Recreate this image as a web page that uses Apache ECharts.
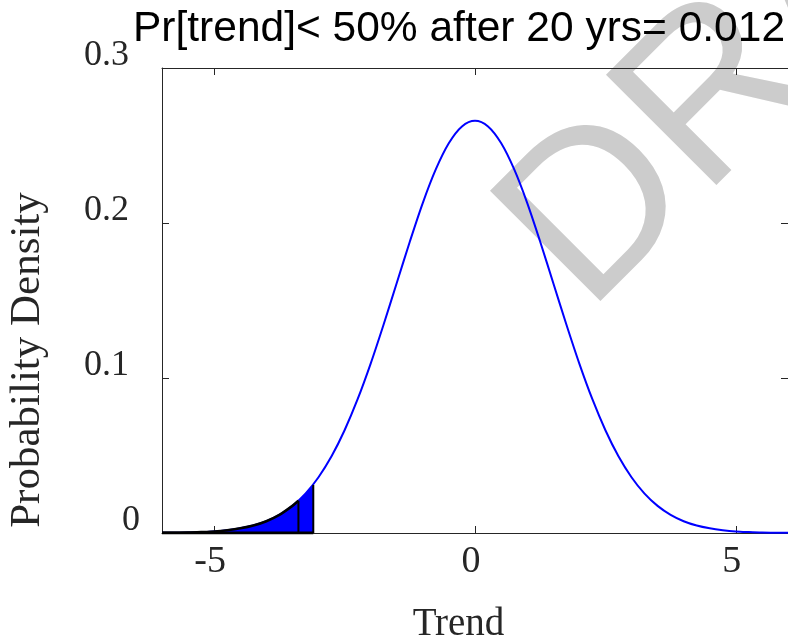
<!DOCTYPE html>
<html>
<head>
<meta charset="utf-8">
<script src="https://cdn.jsdelivr.net/npm/echarts@6/dist/echarts.min.js"></script>
<style>html,body{margin:0;padding:0;background:#fff;}#chart{width:788px;height:643px;}</style>
</head>
<body>
<div id="chart"></div>
<script>
// ---- data ----
const trendX = [-6,-5.75,-5.5,-5.25,-5,-4.75,-4.5,-4.25,-4,-3.75,-3.5,-3.25,-3,-2.75,-2.5,-2.25,-2,-1.75,-1.5,-1.25,-1,-0.75,-0.5,-0.25,0,
  0.25,0.5,0.75,1,1.25,1.5,1.75,2,2.25,2.5,2.75,3,3.25,3.5,3.75,4,4.25,4.5,4.75,5,5.25,5.5,5.75,6];
const density = [0.0001,0.0002,0.0003,0.0006,0.0010,0.0018,0.0030,0.0048,0.0076,0.0117,0.0175,0.0254,0.0360,0.0495,0.0663,0.0863,0.1093,0.1347,0.1613,0.1879,0.2130,0.2347,0.2516,0.2623,0.2660,
  0.2623,0.2516,0.2347,0.2130,0.1879,0.1613,0.1347,0.1093,0.0863,0.0663,0.0495,0.0360,0.0254,0.0175,0.0117,0.0076,0.0048,0.0030,0.0018,0.0010,0.0006,0.0003,0.0002,0.0001];
const shadeEndX = -3.1;      // right edge of blue shaded tail
const shadeEndY = 0.031;
const markX = -3.385;        // black vertical line inside tail
const markY = 0.0208;
const xTicks = [-5, 0, 5];
const yTicks = [0, 0.1, 0.2, 0.3];
const titleText = 'Pr[trend]< 50% after 20 yrs= 0.012';
const xName = 'Trend';
const yName = 'Probability Density';
const watermark = 'DRAFT';

// ---- build series data ----
const curve = trendX.map((x, i) => [x, density[i]]);
const shade = curve.filter(p => p[0] < shadeEndX).concat([[shadeEndX, shadeEndY]]);
const blackCurve = curve.filter(p => p[0] < markX).concat([[markX, markY]]);

const axisColor = '#262626';
const serif = '"Liberation Serif", "Times New Roman", serif';
const sans = '"Liberation Sans", Arial, sans-serif';

const chart = echarts.init(document.getElementById('chart'), null, {renderer: 'canvas'});
chart.setOption({
  animation: false,
  backgroundColor: '#ffffff',
  grid: {left: 162, top: 68, width: 627, height: 465, containLabel: false},
  xAxis: [{
    type: 'value', min: -6, max: 6, position: 'bottom',
    axisLine: {show: true, onZero: false, lineStyle: {color: axisColor, width: 1}},
    axisTick: {show: true, inside: true, length: 7, customValues: xTicks, lineStyle: {color: axisColor}},
    axisLabel: {show: true, customValues: xTicks, margin: 10, color: axisColor, fontFamily: serif, fontSize: 38, lineHeight: 38, padding: [0, 8, 0, 0]},
    splitLine: {show: false}
  }, {
    type: 'value', min: -6, max: 6, position: 'top',
    axisLine: {show: true, onZero: false, lineStyle: {color: axisColor, width: 1}},
    axisTick: {show: true, inside: true, length: 7, customValues: xTicks, lineStyle: {color: axisColor}},
    axisLabel: {show: false},
    splitLine: {show: false}
  }],
  yAxis: [{
    type: 'value', min: 0, max: 0.3, interval: 0.1, position: 'left',
    axisLine: {show: true, onZero: false, lineStyle: {color: axisColor, width: 1}},
    axisTick: {show: true, inside: true, length: 7, lineStyle: {color: axisColor}},
    axisLabel: {
      show: true, margin: 22, color: axisColor, fontFamily: serif, fontSize: 36,
      verticalAlign: 'bottom', lineHeight: 25,
      formatter: v => v === 0 ? '{z|0}' : '{a|' + (+v.toFixed(1)) + '}',
      rich: {
        z: {fontFamily: serif, fontSize: 36, color: axisColor, lineHeight: 25},
        a: {fontFamily: serif, fontSize: 36, color: axisColor, lineHeight: 25, padding: [0, 11, 0, 0]}
      }
    },
    splitLine: {show: false}
  }, {
    type: 'value', min: 0, max: 0.3, interval: 0.1, position: 'right',
    axisLine: {show: true, onZero: false, lineStyle: {color: axisColor, width: 1}},
    axisTick: {show: true, inside: true, length: 7, lineStyle: {color: axisColor}},
    axisLabel: {show: false},
    splitLine: {show: false}
  }],
  series: [
    {
      type: 'line', data: shade, smooth: 0.3, symbol: 'none', z: 2,
      lineStyle: {width: 0, opacity: 0},
      areaStyle: {color: '#0000ff', opacity: 1}
    },
    {
      type: 'line', data: curve, smooth: 0.3, symbol: 'none', z: 3,
      lineStyle: {color: '#0000ff', width: 2}
    },
    {
      type: 'line', data: blackCurve, smooth: 0.3, symbol: 'none', z: 4,
      lineStyle: {color: '#000000', width: 2.5}
    },
    {
      type: 'line', data: [[markX, 0], [markX, markY]], symbol: 'none', z: 4,
      lineStyle: {color: '#000000', width: 2}
    },
    {
      type: 'line', data: [[shadeEndX, 0], [shadeEndX, shadeEndY]], symbol: 'none', z: 4,
      lineStyle: {color: '#000000', width: 2}
    },
    {
      type: 'line', data: [[-6, 0], [shadeEndX, 0]], symbol: 'none', z: 4,
      lineStyle: {color: '#000000', width: 3}
    }
  ],
  graphic: [
    {
      type: 'text', x: 543, y: 270, rotation: Math.PI / 4, z: -10, silent: true,
      style: {text: watermark, fontSize: 227, fontFamily: sans, fill: '#cccccc', align: 'left', verticalAlign: 'middle'}
    },
    {
      type: 'text', x: 459, y: 29, z: 10,
      style: {text: titleText, fontSize: 42.5, fontFamily: sans, fill: '#000000', align: 'center', verticalAlign: 'middle'}
    },
    {
      type: 'text', x: 458.5, y: 625, z: 10,
      style: {text: xName, fontSize: 39, fontFamily: serif, fill: axisColor, align: 'center', verticalAlign: 'middle'}
    },
    {
      type: 'text', x: 28, y: 360, rotation: Math.PI / 2, z: 10,
      style: {text: yName, fontSize: 43, fontFamily: serif, fill: axisColor, align: 'center', verticalAlign: 'middle'}
    }
  ]
});
</script>
</body>
</html>
